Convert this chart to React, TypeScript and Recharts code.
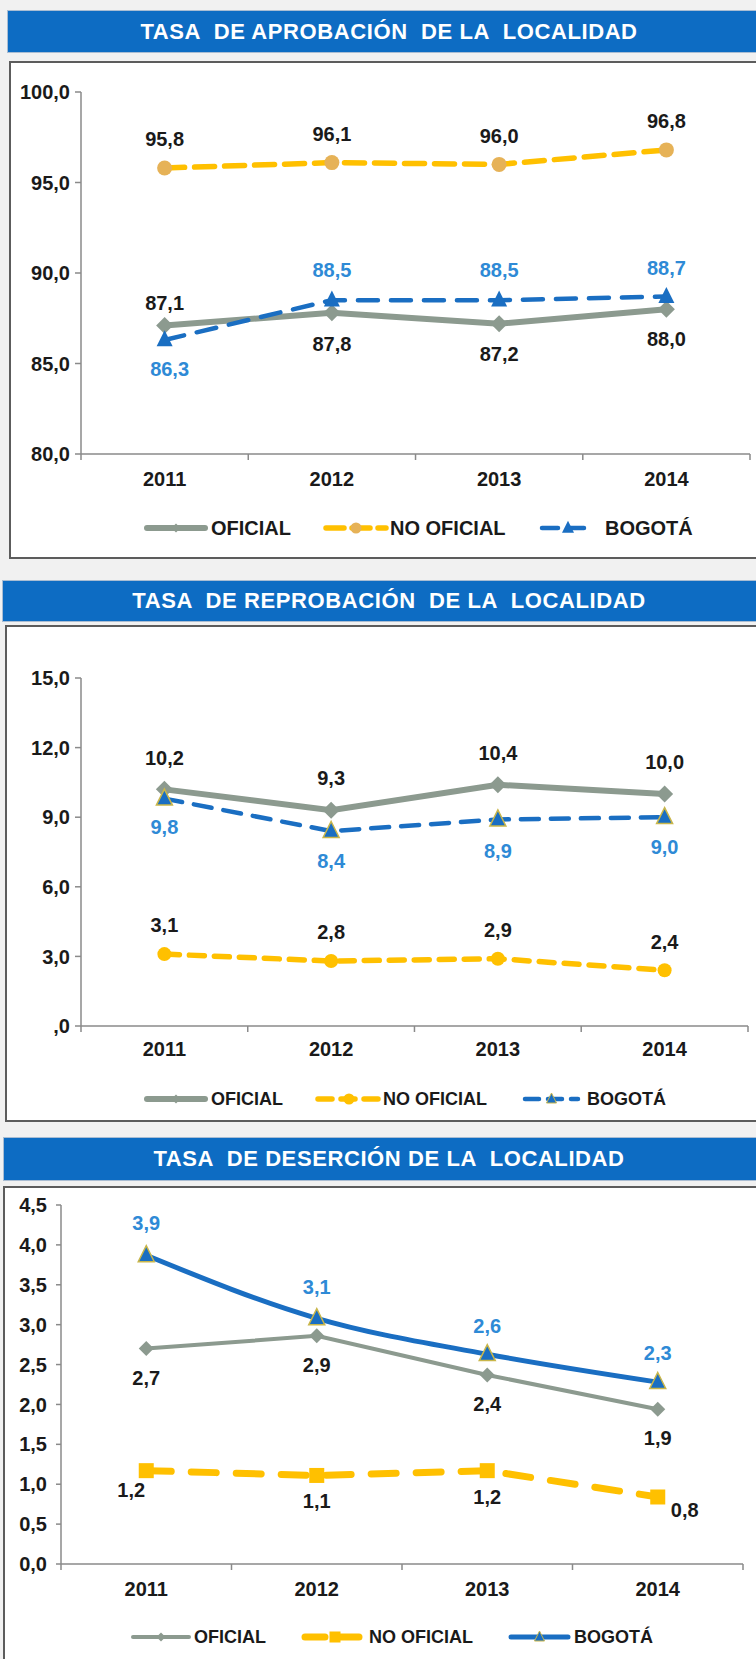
import React from 'react';
import { LineChart, Line, XAxis, YAxis, Legend } from 'recharts';

const FONT = '"Liberation Sans", Arial, Helvetica, sans-serif';

// ---------- DATA ----------
const years = ['2011', '2012', '2013', '2014'];
const seriesNames = ['OFICIAL', 'NO OFICIAL', 'BOGOTÁ'];

// Tasa de aprobación
const aprobOficial = [87.1, 87.8, 87.2, 88.0];
const aprobNoOficial = [95.8, 96.1, 96.0, 96.8];
const aprobBogota = [86.3, 88.5, 88.5, 88.7];
const aprobTicks = [80, 85, 90, 95, 100];
const aprobTickLabels = ['80,0', '85,0', '90,0', '95,0', '100,0'];

// Tasa de reprobación
const reprobOficial = [10.2, 9.3, 10.4, 10.0];
const reprobNoOficial = [3.1, 2.8, 2.9, 2.4];
const reprobBogota = [9.8, 8.4, 8.9, 9.0];
const reprobTicks = [0, 3, 6, 9, 12, 15];
const reprobTickLabels = [',0', '3,0', '6,0', '9,0', '12,0', '15,0'];

// Tasa de deserción
const desercOficial = [2.7, 2.86, 2.37, 1.94];
const desercNoOficial = [1.17, 1.11, 1.17, 0.84];
const desercBogota = [3.87, 3.08, 2.63, 2.28];
const desercTicks = [0, 0.5, 1, 1.5, 2, 2.5, 3, 3.5, 4, 4.5];
const desercTickLabels = ['0,0', '0,5', '1,0', '1,5', '2,0', '2,5', '3,0', '3,5', '4,0', '4,5'];

const buildRows = (a: number[], b: number[], c: number[]) =>
  years.map((y, i) => ({ year: y, oficial: a[i], noOficial: b[i], bogota: c[i] }));

// ---------- STYLES ----------
const GRAY = '#8C9A8F';
const YELLOW = '#FFC000';
const BLUE = '#1A6EC2';
const BLUE_LABEL = '#2E8AD6';
const TEXT = '#1A1A1A';

type Shape = 'diamond' | 'circle' | 'triangle' | 'square';
interface MarkerStyle { shape: Shape; size: number; fill: string; stroke?: string; strokeWidth?: number }
interface SeriesStyle {
  key: string;
  color: string;
  width: number;
  dash?: string;
  legendDash?: string;
  curve: 'linear' | 'monotone' | 'natural';
  marker: MarkerStyle;
  legendMarker: MarkerStyle;
  labelColor: string;
  labelOffsets: [number, number][];
}

const drawMarker = (cx: number, cy: number, m: MarkerStyle, key?: string) => {
  const s = m.size;
  const common = { fill: m.fill, stroke: m.stroke || 'none', strokeWidth: m.strokeWidth || 0 };
  if (m.shape === 'circle') return <circle key={key} cx={cx} cy={cy} r={s / 2} {...common} />;
  if (m.shape === 'square') return <rect key={key} x={cx - s / 2} y={cy - s / 2} width={s} height={s} {...common} />;
  if (m.shape === 'triangle')
    return (
      <polygon
        key={key}
        points={`${cx},${cy - s * 0.6} ${cx + s / 2},${cy + s * 0.4} ${cx - s / 2},${cy + s * 0.4}`}
        {...common}
      />
    );
  return (
    <polygon
      key={key}
      points={`${cx},${cy - s / 2} ${cx + s / 2},${cy} ${cx},${cy + s / 2} ${cx - s / 2},${cy}`}
      {...common}
    />
  );
};

const fmt = (v: number) => v.toFixed(1).replace('.', ',');

interface ChartCfg {
  title: string;
  titleLeft: number;
  titleTop: number;
  titleHeight: number;
  titleFont: number;
  boxLeft: number;
  boxTop: number;
  boxHeight: number;
  chartTop: number;
  chartHeight: number;
  margin: { top: number; right: number; left: number; bottom: number };
  yAxisWidth: number;
  yTickSize: number;
  yTickMargin: number;
  catPad: number;
  catLabelOffset: number;
  legendTop: number;
  legendFont: number;
  legendItems: { x1: number; x2: number; tx: number }[];
  domain: [number, number];
  ticks: number[];
  tickLabels: string[];
  rows: any[];
  series: SeriesStyle[];
}

const up = (d: number): [number, number] => [0, -d];
const dn = (d: number): [number, number] => [0, d];

const chart1: ChartCfg = {
  title: 'TASA  DE APROBACIÓN  DE LA  LOCALIDAD',
  titleLeft: 7,
  titleTop: 10,
  titleHeight: 43,
  titleFont: 22,
  boxLeft: 9,
  boxTop: 61,
  boxHeight: 498,
  chartTop: 61,
  chartHeight: 497,
  margin: { top: 31, right: 6, left: 0, bottom: 64 },
  yAxisWidth: 81,
  yTickSize: 6,
  yTickMargin: 5,
  catPad: 83.6,
  catLabelOffset: 24.5,
  legendTop: 455,
  legendFont: 20,
  legendItems: [
    { x1: 147, x2: 205, tx: 211 },
    { x1: 326, x2: 386, tx: 390 },
    { x1: 542, x2: 594, tx: 605 },
  ],
  domain: [80, 100],
  ticks: aprobTicks,
  tickLabels: aprobTickLabels,
  rows: buildRows(aprobOficial, aprobNoOficial, aprobBogota),
  series: [
    {
      key: 'oficial', color: GRAY, width: 6, curve: 'linear',
      marker: { shape: 'diamond', size: 17, fill: GRAY },
      legendMarker: { shape: 'diamond', size: 9, fill: GRAY },
      labelColor: TEXT, labelOffsets: [up(23), dn(31), dn(30), dn(30)],
    },
    {
      key: 'noOficial', color: YELLOW, width: 5.5, dash: '20 10', legendDash: '18 8', curve: 'linear',
      marker: { shape: 'circle', size: 15, fill: '#E6B257' },
      legendMarker: { shape: 'circle', size: 11, fill: '#E6B257' },
      labelColor: TEXT, labelOffsets: [up(29), up(29), up(29), up(29)],
    },
    {
      key: 'bogota', color: BLUE, width: 4.5, dash: '20 13', legendDash: '16 10', curve: 'linear',
      marker: { shape: 'triangle', size: 16, fill: BLUE },
      legendMarker: { shape: 'triangle', size: 12, fill: BLUE },
      labelColor: BLUE_LABEL, labelOffsets: [[5, 29], up(30), up(30), up(29)],
    },
  ],
};

const chart2: ChartCfg = {
  title: 'TASA  DE REPROBACIÓN  DE LA  LOCALIDAD',
  titleLeft: 2,
  titleTop: 580,
  titleHeight: 42,
  titleFont: 22,
  boxLeft: 5,
  boxTop: 625,
  boxHeight: 497,
  chartTop: 625,
  chartHeight: 497,
  margin: { top: 53, right: 8, left: 0, bottom: 56 },
  yAxisWidth: 81,
  yTickSize: 6,
  yTickMargin: 5,
  catPad: 83.4,
  catLabelOffset: 23,
  legendTop: 462,
  legendFont: 18,
  legendItems: [
    { x1: 147, x2: 205, tx: 211 },
    { x1: 318, x2: 380, tx: 383 },
    { x1: 525, x2: 578, tx: 587 },
  ],
  domain: [0, 15],
  ticks: reprobTicks,
  tickLabels: reprobTickLabels,
  rows: buildRows(reprobOficial, reprobNoOficial, reprobBogota),
  series: [
    {
      key: 'oficial', color: GRAY, width: 6, curve: 'linear',
      marker: { shape: 'diamond', size: 17, fill: GRAY },
      legendMarker: { shape: 'diamond', size: 9, fill: GRAY },
      labelColor: TEXT, labelOffsets: [up(32), up(32), up(32), up(32)],
    },
    {
      key: 'noOficial', color: YELLOW, width: 5.5, dash: '15 10', legendDash: '14 9', curve: 'linear',
      marker: { shape: 'circle', size: 14, fill: YELLOW },
      legendMarker: { shape: 'circle', size: 11, fill: YELLOW },
      labelColor: TEXT, labelOffsets: [up(29), up(29), up(29), up(29)],
    },
    {
      key: 'bogota', color: BLUE, width: 4.5, dash: '18 12', legendDash: '14 9', curve: 'linear',
      marker: { shape: 'triangle', size: 16, fill: BLUE, stroke: '#C9B64A', strokeWidth: 1.5 },
      legendMarker: { shape: 'triangle', size: 10, fill: BLUE, stroke: '#C9B64A', strokeWidth: 1 },
      labelColor: BLUE_LABEL, labelOffsets: [dn(28), dn(30), dn(31), dn(30)],
    },
  ],
};

const chart3: ChartCfg = {
  title: 'TASA  DE DESERCIÓN DE LA  LOCALIDAD',
  titleLeft: 3,
  titleTop: 1137,
  titleHeight: 44,
  titleFont: 22,
  boxLeft: 3,
  boxTop: 1186,
  boxHeight: 520,
  chartTop: 1186,
  chartHeight: 473,
  margin: { top: 19, right: 13, left: 0, bottom: 55 },
  yAxisWidth: 61,
  yTickSize: 5,
  yTickMargin: 9,
  catPad: 85.25,
  catLabelOffset: 24.5,
  legendTop: 439,
  legendFont: 18,
  legendItems: [
    { x1: 133, x2: 189, tx: 194 },
    { x1: 305, x2: 365, tx: 369 },
    { x1: 511, x2: 568, tx: 574 },
  ],
  domain: [0, 4.5],
  ticks: desercTicks,
  tickLabels: desercTickLabels,
  rows: buildRows(desercOficial, desercNoOficial, desercBogota),
  series: [
    {
      key: 'oficial', color: GRAY, width: 4, curve: 'linear',
      marker: { shape: 'diamond', size: 15, fill: GRAY },
      legendMarker: { shape: 'diamond', size: 9, fill: GRAY },
      labelColor: TEXT, labelOffsets: [dn(29), dn(29), dn(29), dn(29)],
    },
    {
      key: 'noOficial', color: YELLOW, width: 7, dash: '25 20', legendDash: '20 14', curve: 'linear',
      marker: { shape: 'square', size: 15, fill: YELLOW },
      legendMarker: { shape: 'square', size: 11, fill: YELLOW },
      labelColor: TEXT, labelOffsets: [[-15, 19], dn(25), dn(26), [27, 13]],
    },
    {
      key: 'bogota', color: BLUE, width: 5, curve: 'monotone',
      marker: { shape: 'triangle', size: 16, fill: BLUE, stroke: '#C9B64A', strokeWidth: 1.5 },
      legendMarker: { shape: 'triangle', size: 10, fill: BLUE, stroke: '#C9B64A', strokeWidth: 1 },
      labelColor: BLUE_LABEL, labelOffsets: [up(32), up(31), up(28), up(29)],
    },
  ],
};

const charts = [chart1, chart2, chart3];

// ---------- COMPONENTS ----------
const makeCatTick = (cfg: ChartCfg) => (props: any) => {
  const { x, y, payload, index } = props;
  const idx = typeof index === 'number' ? index : payload?.index ?? 0;
  const left = x - cfg.catPad;
  const right = x + cfg.catPad;
  return (
    <g>
      <line x1={left} x2={left} y1={y} y2={y + 6} stroke="#8A8A8A" strokeWidth={1.5} />
      {idx === years.length - 1 && <line x1={right} x2={right} y1={y} y2={y + 6} stroke="#8A8A8A" strokeWidth={1.5} />}
      <text
        x={x}
        y={y + cfg.catLabelOffset}
        dy="0.36em"
        textAnchor="middle"
        fontFamily={FONT}
        fontWeight="bold"
        fontSize={20}
        fill={TEXT}
      >
        {payload.value}
      </text>
    </g>
  );
};

const makeLegend = (cfg: ChartCfg) => () => (
  <svg width={756} height={24} style={{ display: 'block', overflow: 'visible' }}>
    {cfg.series.map((s, i) => {
      const it = cfg.legendItems[i];
      const mid = (it.x1 + it.x2) / 2;
      return (
        <g key={s.key}>
          <line
            x1={it.x1}
            x2={it.x2}
            y1={12}
            y2={12}
            stroke={s.color}
            strokeWidth={s.width}
            strokeDasharray={s.legendDash}
            strokeLinecap="round"
          />
          {drawMarker(mid, 12, s.legendMarker)}
          <text
            x={it.tx}
            y={12}
            dy="0.36em"
            fontFamily={FONT}
            fontWeight="bold"
            fontSize={cfg.legendFont}
            fill={TEXT}
          >
            {seriesNames[i]}
          </text>
        </g>
      );
    })}
  </svg>
);

const makeLabel = (s: SeriesStyle) => (props: any) => {
  const { x, y, value, index } = props;
  if (x == null || y == null || value == null) return null;
  const [dx, dy] = s.labelOffsets[index] || [0, -29];
  return (
    <text
      key={`${s.key}-lbl-${index}`}
      x={x + dx}
      y={y + dy}
      dy="0.36em"
      textAnchor="middle"
      fontFamily={FONT}
      fontWeight="bold"
      fontSize={20}
      fill={s.labelColor}
    >
      {fmt(Number(value))}
    </text>
  );
};

const ChartPanel = ({ cfg }: { cfg: ChartCfg }) => {
  return (
    <>
      <div
        style={{
          position: 'absolute',
          left: cfg.titleLeft,
          top: cfg.titleTop,
          width: 2 * (389 - cfg.titleLeft),
          height: cfg.titleHeight,
          boxSizing: 'border-box',
          background: '#0D6CC3',
          border: '1px solid #A9BDD3',
          color: '#FFFFFF',
          fontFamily: FONT,
          fontWeight: 'bold',
          fontSize: cfg.titleFont,
          letterSpacing: '0.6px',
          lineHeight: `${cfg.titleHeight - 2}px`,
          textAlign: 'center',
          whiteSpace: 'pre',
        }}
      >
        {cfg.title}
      </div>
      <div
        style={{
          position: 'absolute',
          left: cfg.boxLeft,
          top: cfg.boxTop,
          width: 800,
          height: cfg.boxHeight,
          boxSizing: 'border-box',
          background: '#FFFFFF',
          border: '2px solid #5C5C5C',
        }}
      />
      <div style={{ position: 'absolute', left: 0, top: cfg.chartTop }}>
        <LineChart width={756} height={cfg.chartHeight} data={cfg.rows} margin={cfg.margin}>
          <XAxis
            dataKey="year"
            interval={0}
            padding={{ left: cfg.catPad, right: cfg.catPad }}
            height={40}
            tickSize={0}
            tickMargin={0}
            tickLine={false}
            axisLine={{ stroke: '#8A8A8A', strokeWidth: 1.5 }}
            tick={makeCatTick(cfg)}
          />
          <YAxis
            width={cfg.yAxisWidth}
            domain={cfg.domain}
            ticks={cfg.ticks}
            interval={0}
            allowDataOverflow
            tickSize={cfg.yTickSize}
            tickMargin={cfg.yTickMargin}
            axisLine={{ stroke: '#8A8A8A', strokeWidth: 1.5 }}
            tickLine={{ stroke: '#8A8A8A', strokeWidth: 1.5 }}
            tickFormatter={(v: number) => cfg.tickLabels[cfg.ticks.indexOf(v)] ?? fmt(v)}
            tick={{ fontFamily: FONT, fontWeight: 'bold', fontSize: 20, fill: TEXT }}
          />
          <Legend
            layout="horizontal"
            verticalAlign="middle"
            align="center"
            wrapperStyle={{ top: cfg.legendTop, left: 0, width: 756, height: 24 }}
            content={makeLegend(cfg)}
          />
          {cfg.series.map((s, i) => (
            <Line
              key={s.key}
              dataKey={s.key}
              name={seriesNames[i]}
              type={s.curve}
              stroke={s.color}
              strokeWidth={s.width}
              strokeDasharray={s.dash}
              strokeLinecap={s.dash ? 'round' : 'butt'}
              isAnimationActive={false}
              activeDot={false}
              dot={(p: any) => drawMarker(p.cx, p.cy, s.marker, `${s.key}-dot-${p.index}`)}
              label={makeLabel(s)}
            />
          ))}
        </LineChart>
      </div>
    </>
  );
}

export default function App() {
  return (
    <div
      style={{
        position: 'absolute',
        left: 0,
        top: 0,
        width: 756,
        height: 1659,
        overflow: 'hidden',
        background: '#F1F1F1',
      }}
    >
      {charts.map((c, i) => (
        <ChartPanel key={i} cfg={c} />
      ))}
    </div>
  );
}
